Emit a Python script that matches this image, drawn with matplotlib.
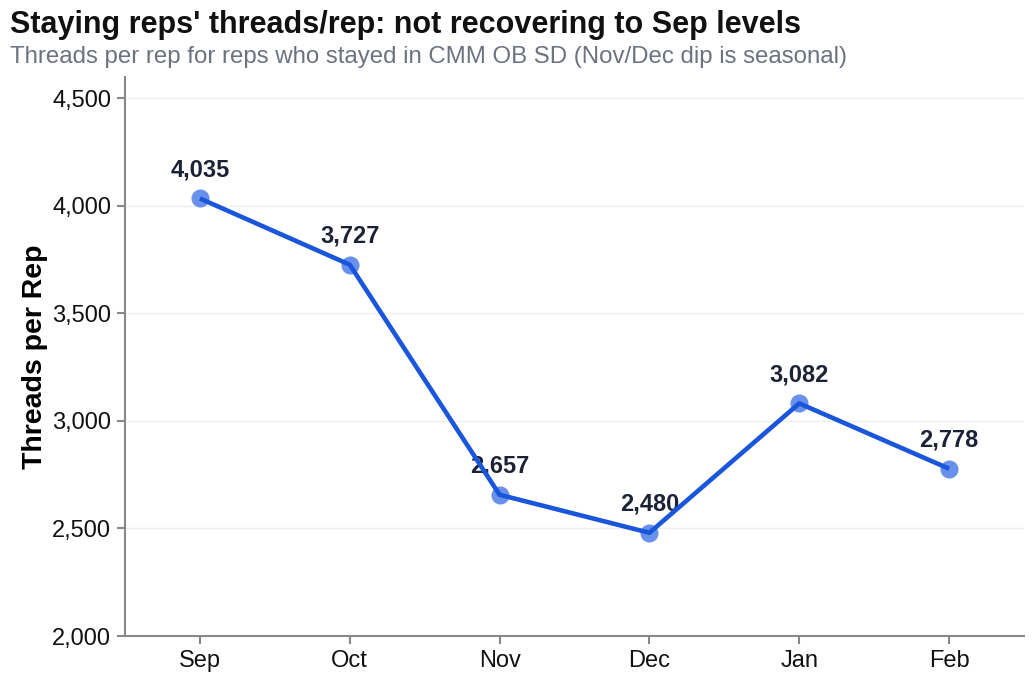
import matplotlib
matplotlib.use('Agg')
import matplotlib.pyplot as plt
from matplotlib.ticker import FuncFormatter

months = ['Sep', 'Oct', 'Nov', 'Dec', 'Jan', 'Feb']
threads_per_rep = [4035, 3727, 2657, 2480, 3082, 2778]
y_ticks = [2000, 2500, 3000, 3500, 4000, 4500]

title = "Staying reps' threads/rep: not recovering to Sep levels"
subtitle = "Threads per rep for reps who stayed in CMM OB SD (Nov/Dec dip is seasonal)"

plt.rcParams['font.family'] = ['Liberation Sans', 'DejaVu Sans']

fig = plt.figure(figsize=(10.34, 6.82), dpi=100)
ax = fig.add_axes([125 / 1034, 46 / 682, 899 / 1034, 559 / 682])

x = list(range(len(months)))
ax.scatter(x, threads_per_rep, s=13 ** 2, color='#4f7ee8', alpha=0.85, zorder=3, linewidths=0)
for xi, v in zip(x, threads_per_rep):
    ax.annotate(f'{v:,}', (xi, v), xytext=(0, 16), textcoords='offset points',
                ha='center', va='baseline', fontsize=17, fontweight='bold', color='#1b2235', zorder=4)
ax.plot(x, threads_per_rep, color='#1a56db', linewidth=3.3, zorder=5, solid_capstyle='butt')

ax.set_xlim(-0.5, 5.5)
ax.set_ylim(2000, 4600)
ax.set_xticks(x)
ax.set_xticklabels(months)
ax.set_yticks(y_ticks)
ax.yaxis.set_major_formatter(FuncFormatter(lambda v, p: f'{int(v):,}'))
ax.grid(axis='y', color='#eeeeee', linewidth=1)
ax.set_axisbelow(True)

for side in ['top', 'right']:
    ax.spines[side].set_visible(False)
for side in ['left', 'bottom']:
    ax.spines[side].set_color('#888888')
    ax.spines[side].set_linewidth(1.5)
ax.tick_params(axis='both', colors='#888888', length=6, width=1.5, labelsize=17,
               labelcolor='#111111', pad=4)

ax.set_ylabel('Threads per Rep', fontsize=20.5, fontweight='bold', labelpad=3)

fig.text(10 / 1034, 1 - 33 / 682, title, fontsize=22, fontweight='bold', color='#111111',
         ha='left', va='baseline')
fig.text(10 / 1034, 1 - 63 / 682, subtitle, fontsize=17.3, color='#6b7280',
         ha='left', va='baseline')

fig.savefig('out.png', dpi=100)
